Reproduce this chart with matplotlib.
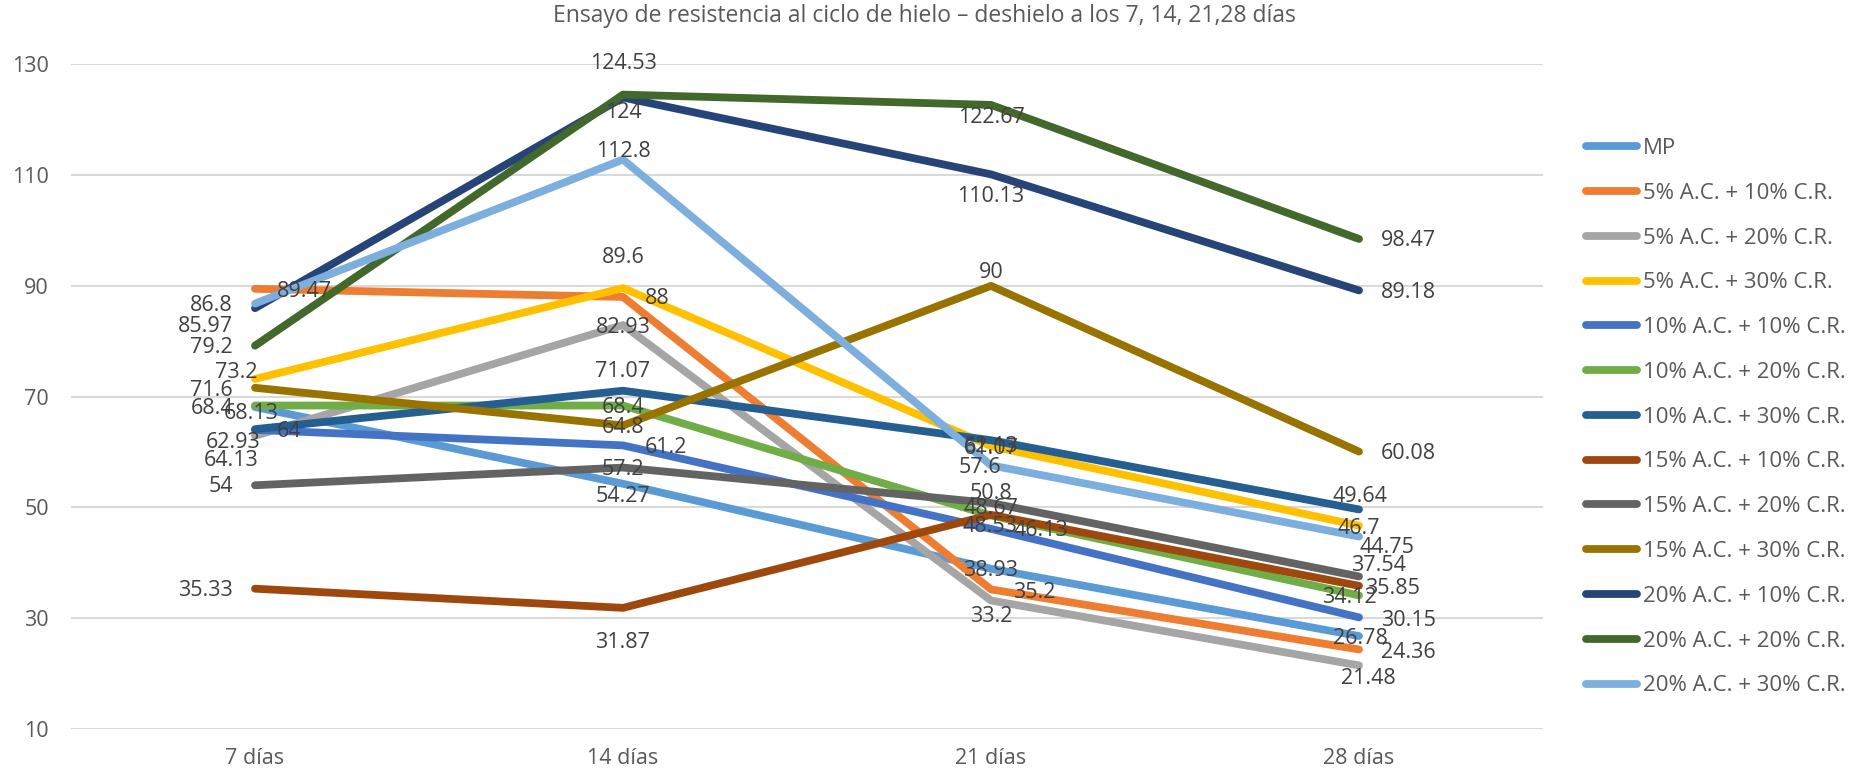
import matplotlib
matplotlib.use("Agg")
import matplotlib.pyplot as plt

# ---- data -------------------------------------------------------------
categories = ["7 días", "14 días", "21 días", "28 días"]

series_names = [
    "MP",
    "5% A.C. + 10% C.R.",
    "5% A.C. + 20% C.R.",
    "5% A.C. + 30% C.R.",
    "10% A.C. + 10% C.R.",
    "10% A.C. + 20% C.R.",
    "10% A.C. + 30% C.R.",
    "15% A.C. + 10% C.R.",
    "15% A.C. + 20% C.R.",
    "15% A.C. + 30% C.R.",
    "20% A.C. + 10% C.R.",
    "20% A.C. + 20% C.R.",
    "20% A.C. + 30% C.R.",
]

mp = [68.13, 54.27, 38.93, 26.78]
ac5_cr10 = [89.47, 88, 35.2, 24.36]
ac5_cr20 = [62.93, 82.93, 33.2, 21.48]
ac5_cr30 = [73.2, 89.6, 61.07, 46.7]
ac10_cr10 = [64, 61.2, 46.13, 30.15]
ac10_cr20 = [68.4, 68.4, 48.53, 34.12]
ac10_cr30 = [64.13, 71.07, 62.13, 49.64]
ac15_cr10 = [35.33, 31.87, 48.67, 35.85]
ac15_cr20 = [54, 57.2, 50.8, 37.54]
ac15_cr30 = [71.6, 64.8, 90, 60.08]
ac20_cr10 = [85.97, 124, 110.13, 89.18]
ac20_cr20 = [79.2, 124.53, 122.67, 98.47]
ac20_cr30 = [86.8, 112.8, 57.6, 44.75]

series_values = [mp, ac5_cr10, ac5_cr20, ac5_cr30, ac10_cr10, ac10_cr20,
                 ac10_cr30, ac15_cr10, ac15_cr20, ac15_cr30, ac20_cr10,
                 ac20_cr20, ac20_cr30]

y_ticks = [10, 30, 50, 70, 90, 110, 130]

# ---- style ------------------------------------------------------------
colors = ["#5B9BD5", "#ED7D31", "#A5A5A5", "#FFC000", "#4472C4", "#70AD47",
          "#255E91", "#9E480E", "#636363", "#997300", "#264478", "#43682B",
          "#7CAFDD"]

# label placement per point: (alignment, dx px, dy px downward)
label_place = [
    [("c", -4, 6), ("c", 0, 13), ("c", 0, 2), ("c", 1, 2)],
    [("r", 22, 3), ("r", 22, 2), ("r", 22, 3), ("r", 22, 3)],
    [("c", -22, 7), ("c", 0, 2), ("c", 0, 16), ("c", 9, 13)],
    [("c", -19, -6), ("c", 0, -31), ("c", 0, 2), ("c", 0, 3)],
    [("r", 22, 2), ("r", 22, 2), ("r", 22, 2), ("r", 22, 3)],
    [("l", -22, 3), ("c", 0, 2), ("c", -1, 11), ("c", -10, 2)],
    [("c", -24, 31), ("c", 0, -19), ("c", 0, 6), ("c", 1, -13)],
    [("l", -22, 2), ("c", 0, 35), ("c", 0, -6), ("c", 34, 3)],
    [("l", -22, 1), ("c", 0, 2), ("c", 0, -10), ("c", 19, -11)],
    [("l", -22, 3), ("c", 0, 2), ("c", 0, -13), ("r", 22, 2)],
    [("l", -22, 18), ("c", 0, 15), ("c", 0, 22), ("r", 22, 2)],
    [("l", -22, 2), ("c", 0, -31), ("c", 0, 13), ("r", 22, 2)],
    [("l", -22, 2), ("c", 0, -8), ("c", -11, 2), ("c", 28, 11)],
]

FONT = "Open Sans"
plt.rcParams["font.family"] = [FONT, "DejaVu Sans"]

W, H = 1852, 774
fig = plt.figure(figsize=(W / 100, H / 100), dpi=100)
ax = fig.add_axes([71 / W, 1 - 729 / H, (1543 - 71) / W, (729 - 64.3) / H])

x = list(range(len(categories)))
lines = []
for name, vals, col in zip(series_names, series_values, colors):
    ln, = ax.plot(x, vals, color=col, lw=5.6, solid_capstyle="round",
                  solid_joinstyle="round", label=name, zorder=3)
    lines.append(ln)

ha_map = {"c": "center", "r": "left", "l": "right"}
for vals, places in zip(series_values, label_place):
    for xi, v, (al, dx, dy) in zip(x, vals, places):
        ax.annotate(f"{v:g}", (xi, v), xytext=(dx, -dy),
                    textcoords="offset pixels", ha=ha_map[al], va="center",
                    fontsize=15.5, color="#404040", zorder=5,
                    annotation_clip=False)

ax.set_xlim(-0.5, len(categories) - 0.5)
ax.set_ylim(10, 130)
ax.set_yticks(y_ticks)
ax.set_xticks(x)
ax.set_xticklabels(categories)
ax.yaxis.grid(True, color="#D9D9D9", lw=1.5)
ax.set_axisbelow(True)
for s in ax.spines.values():
    s.set_visible(False)
ax.tick_params(axis="both", length=0, labelsize=15.5, colors="#595959")
ax.tick_params(axis="y", pad=16)
ax.tick_params(axis="x", pad=14)

fig.text(924 / W, 1 - 16.5 / H,
         "Ensayo de resistencia al ciclo de hielo – deshielo a los 7, 14, 21,28 días",
         ha="center", va="center", fontsize=16.5, color="#595959")

fig.legend(handles=lines, loc="upper left",
           bbox_to_anchor=(1585.5 / W, 1 - 138 / H), frameon=False,
           fontsize=16, labelcolor="#595959", handlelength=2.3,
           handletextpad=0.3, labelspacing=1.07, borderpad=0,
           borderaxespad=0)

fig.savefig("out.png", dpi=100, facecolor="white")
